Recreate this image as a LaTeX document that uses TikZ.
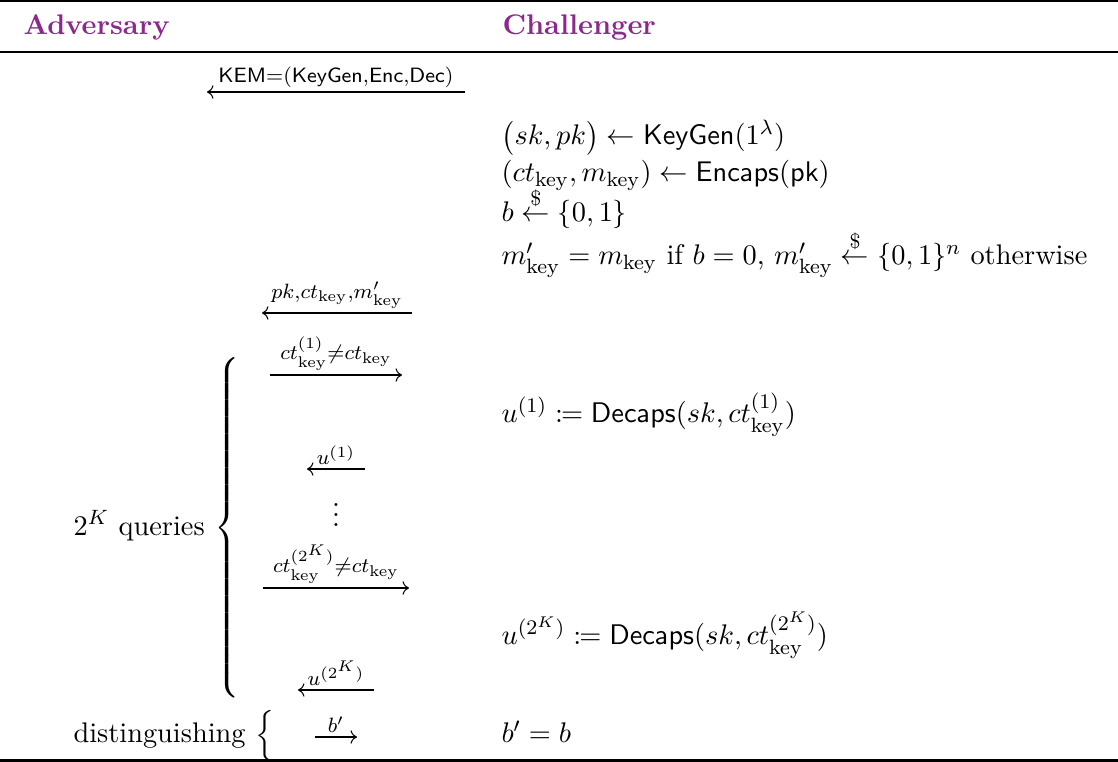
\documentclass[tikz,border=0pt,11pt]{standalone}
\usepackage{amsmath,amssymb,mathtools}
\usepackage{xcolor}
\usetikzlibrary{positioning,arrows.meta}
\definecolor{hdrpurple}{HTML}{8C2A8C}
\newcommand{\key}{\mathrm{key}}

\begin{document}
\begin{tikzpicture}[x=0.3861pt, y=-0.3861pt,
    msg/.style={line width=0.4pt, -{To}},
    lbl/.style={inner sep=0pt, above=1.6pt, midway},
    hdr/.style={anchor=base west, inner sep=0pt, text=hdrpurple, font=\bfseries},
    cmd/.style={anchor=base west, inner sep=0pt}
]
    \useasboundingbox (0,0) rectangle (1118,762);

    % Rules
    \draw[line width=0.8pt] (0,1.2) -- (1118,1.2);
    \draw[line width=0.5pt] (0,52) -- (1118,52);
    \draw[line width=0.8pt] (0,760.5) -- (1118,760.5);

    % Header
    \node[hdr] (adv) at (23,35) {Adversary};
    \node[hdr] (chal) at (502,35) {Challenger};

    % Challenger side
    \node[cmd] (keygen) at (501,145) {$\bigl(sk,pk\bigr)\leftarrow\mathsf{KeyGen}(1^\lambda)$};
    \node[cmd] (encaps) at (501,182) {$(ct_{\key},m_{\key})\leftarrow\mathsf{Encaps}(\mathsf{pk})$};
    \node[cmd] (coin) at (501,222) {$b\stackrel{\$}{\leftarrow}\{0,1\}$};
    \node[cmd] (mkey) at (501,265) {$m'_{\key}=m_{\key}$ if $b=0$, $m'_{\key}\stackrel{\$}{\leftarrow}\{0,1\}^n$ otherwise};
    \node[cmd] (dec1) at (501,423) {$u^{(1)}\coloneqq\mathsf{Decaps}(sk,ct^{(1)}_{\key})$};
    \node[cmd] (decK) at (501,645) {$u^{(2^K)}\coloneqq\mathsf{Decaps}(sk,ct^{(2^K)}_{\key})$};
    \node[cmd] (guess) at (501,743) {$b'=b$};

    % Adversary side
    \node[inner sep=0pt, anchor=east] (queries) at (243,528)
        {$2^K$ queries $\left\{\vcenter{\hbox{\rule{0pt}{131pt}}}\right.$};
    \node[inner sep=0pt, anchor=base] (dots) at (336,527) {$\vdots$};
    \node[cmd] (dist) at (73,743) {distinguishing $\left\{\vphantom{\xrightarrow{b'}}\right.$};

    % Messages
    \coordinate (kemL) at (207,92);  \coordinate (kemR) at (465,92);
    \coordinate (pkL) at (262,313);  \coordinate (pkR) at (412,313);
    \coordinate (q1L) at (270,375);  \coordinate (q1R) at (402,375);
    \coordinate (a1L) at (307,469);  \coordinate (a1R) at (365,469);
    \coordinate (qKL) at (263,588);  \coordinate (qKR) at (409,588);
    \coordinate (aKL) at (298,690);  \coordinate (aKR) at (374,690);
    \coordinate (bL) at (315,737);   \coordinate (bR) at (357,737);

    \draw[msg] (kemR) -- node[lbl] {$\scriptstyle\mathsf{KEM}=(\mathsf{KeyGen},\mathsf{Enc},\mathsf{Dec})$} (kemL);
    \draw[msg] (pkR) -- node[lbl] {$\scriptstyle pk,ct_{\key},m'_{\key}$} (pkL);
    \draw[msg] (q1L) -- node[lbl] {$\scriptstyle ct^{(1)}_{\key}\neq ct_{\key}$} (q1R);
    \draw[msg] (a1R) -- node[lbl] {$\scriptstyle u^{(1)}$} (a1L);
    \draw[msg] (qKL) -- node[lbl] {$\scriptstyle ct^{(2^K)}_{\key}\neq ct_{\key}$} (qKR);
    \draw[msg] (aKR) -- node[lbl] {$\scriptstyle u^{(2^K)}$} (aKL);
    \draw[msg] (bL) -- node[lbl] {$\scriptstyle b'$} (bR);

\end{tikzpicture}
\end{document}
